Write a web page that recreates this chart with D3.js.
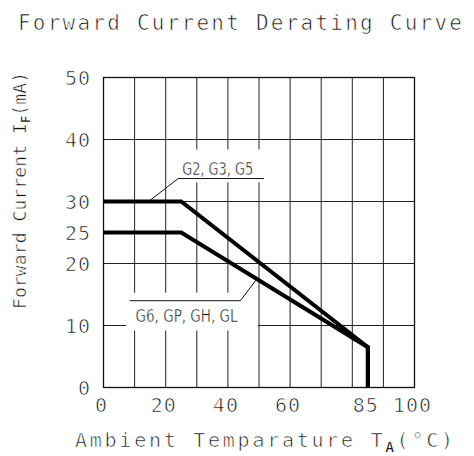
<!DOCTYPE html>
<html>
<head>
<meta charset="utf-8">
<style>
body { margin: 0; background: #fff; }
svg text { font-family: "DejaVu Sans Mono", monospace; fill: #111; stroke: #fff; stroke-width: 0.7; }
svg text.ylab { stroke-width: 0.5; }
svg tspan.sub { stroke: none; }
.grid line { stroke: #222; stroke-width: 1; }
.frame { fill: none; stroke: #111; stroke-width: 1.3; }
.curve { fill: none; stroke: #000; stroke-width: 4; stroke-linejoin: miter; }
.note line { stroke: #111; stroke-width: 1; }
.note text { font-family: "DejaVu Sans", sans-serif; stroke-width: 0.5; }
</style>
</head>
<body>
<svg width="474" height="456"></svg>
<script src="https://d3js.org/d3.v7.min.js"></script>
<script>
// chart values
var xTicks = [0, 20, 40, 60, 85, 100];
var yTicks = [0, 10, 20, 25, 30, 40, 50];
var xGrid = [10, 20, 30, 40, 50, 60, 70, 80, 90];
var yGrid = [10, 20, 30, 40];
var temps = [0, 25, 85, 85];
var currentHigh = [30, 30, 6.5, 0];
var currentLow = [25, 25, 6.5, 0];
var seriesNames = ["G2, G3, G5", "G6, GP, GH, GL"];

var svg = d3.select("svg");

var x = d3.scaleLinear().domain([0, 100]).range([103.5, 414.5]);
var y = d3.scaleLinear().domain([0, 50]).range([387.5, 77.5]);

// title
svg.append("text")
  .attr("x", 18).attr("y", 30)
  .attr("font-size", 21)
  .attr("textLength", 444).attr("lengthAdjust", "spacing")
  .text("Forward Current Derating Curve");

// grid
var grid = svg.append("g").attr("class", "grid");
grid.selectAll(".vx").data(xGrid).enter().append("line")
  .attr("x1", d => x(d)).attr("x2", d => x(d))
  .attr("y1", y(0)).attr("y2", y(50));
grid.selectAll(".hy").data(yGrid).enter().append("line")
  .attr("x1", x(0)).attr("x2", x(100))
  .attr("y1", d => y(d)).attr("y2", d => y(d));

svg.append("rect").attr("class", "frame")
  .attr("x", x(0)).attr("y", y(50))
  .attr("width", x(100) - x(0)).attr("height", y(0) - y(50));

// white patches behind the series labels
var boxes = [
  {x0: 21.5, x1: 52, y0: 38.4, y1: 33.1},
  {x0: 7.2, x1: 49.6, y0: 15.3, y1: 9.2}
];
svg.selectAll(".patch").data(boxes).enter().append("rect")
  .attr("fill", "#fff")
  .attr("x", d => x(d.x0)).attr("y", d => y(d.y0))
  .attr("width", d => x(d.x1) - x(d.x0))
  .attr("height", d => y(d.y1) - y(d.y0));

// curves
var line = d3.line().x(d => x(d[0])).y(d => y(d[1]));
[currentHigh, currentLow].forEach(function(vals) {
  svg.append("path").attr("class", "curve")
    .attr("d", line(temps.map((t, i) => [t, vals[i]])));
});

// axis tick labels
svg.selectAll(".xt").data(xTicks).enter().append("text")
  .attr("x", d => x(d) - 2).attr("y", 412)
  .attr("text-anchor", "middle")
  .attr("font-size", 20).attr("letter-spacing", 1)
  .text(d => d);

svg.selectAll(".yt").data(yTicks).enter().append("text")
  .attr("x", 91).attr("y", d => y(d))
  .attr("dy", "0.36em")
  .attr("text-anchor", "end")
  .attr("font-size", 20).attr("letter-spacing", 1)
  .text(d => d);

// axis titles
var xl = svg.append("text")
  .attr("x", 75).attr("y", 447)
  .attr("font-size", 20)
  .attr("textLength", 378).attr("lengthAdjust", "spacing");
xl.append("tspan").text("Ambient Temparature T");
xl.append("tspan").attr("class", "sub").attr("font-size", 14).attr("dy", 5).text("A");
xl.append("tspan").attr("dy", -5).text("(°C)");

var yl = svg.append("text").attr("class", "ylab")
  .attr("transform", "translate(26,309) rotate(-90)")
  .attr("font-size", 18)
  .attr("textLength", 237).attr("lengthAdjust", "spacing");
yl.append("tspan").text("Forward Current I");
yl.append("tspan").attr("class", "sub").attr("font-size", 12).attr("dy", 4).text("F");
yl.append("tspan").attr("dy", -4).text("(mA)");

// series labels with leaders
var notes = [
  {name: seriesNames[0], tx: 25.3, tw: 71, ty: 34.2, u0: 24, u1: 51.6, uy: 33.7, lx: 14.5, ly: 30},
  {name: seriesNames[1], tx: 10.3, tw: 102, ty: 10.6, u0: 8.4, u1: 44, uy: 14, lx: 49.3, ly: 17.5}
];
var ng = svg.selectAll(".note").data(notes).enter().append("g").attr("class", "note");
ng.append("line")
  .attr("x1", d => x(d.u0)).attr("x2", d => x(d.u1))
  .attr("y1", d => y(d.uy)).attr("y2", d => y(d.uy));
ng.append("line")
  .attr("x1", (d, i) => x(i === 0 ? d.u0 : d.u1)).attr("y1", d => y(d.uy))
  .attr("x2", d => x(d.lx)).attr("y2", d => y(d.ly));
ng.append("text")
  .attr("x", d => x(d.tx)).attr("y", d => y(d.ty))
  .attr("font-size", 18)
  .attr("textLength", d => d.tw).attr("lengthAdjust", "spacingAndGlyphs")
  .text(d => d.name);
</script>
</body>
</html>
